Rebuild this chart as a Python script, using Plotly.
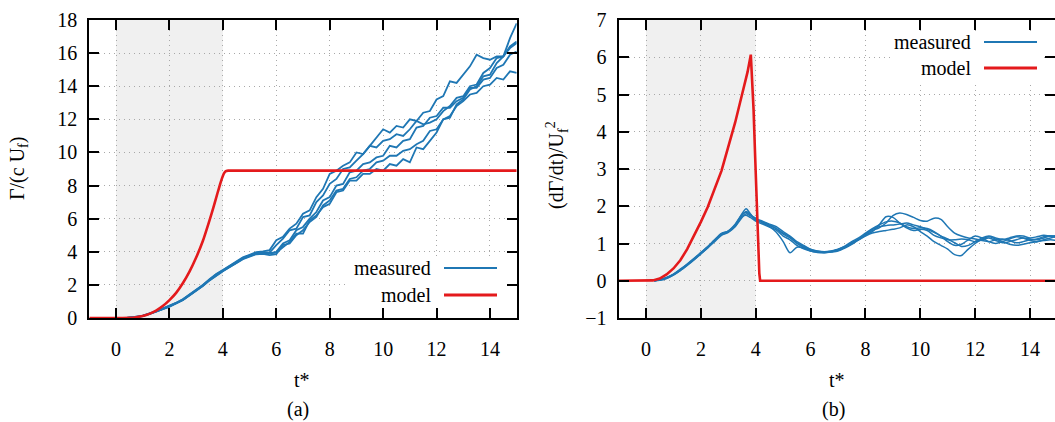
import plotly.graph_objects as go

W, H = 1055, 422

# ---------------- data: (a) circulation ----------------
t_early = [0.4, 0.75, 1.0, 1.25, 1.5, 1.75, 2.0, 2.25, 2.5, 2.75, 3.0, 3.25, 3.5,
           3.75, 4.0, 4.25, 4.5, 4.75, 5.0, 5.25, 5.5]
t_late = [5.75, 6.0, 6.25, 6.5, 6.75, 7.0, 7.25, 7.5, 7.75, 8.0, 8.25, 8.5, 8.75,
          9.0, 9.25, 9.5, 9.75, 10.0, 10.25, 10.5, 10.75, 11.0, 11.25, 11.5, 11.75,
          12.0, 12.25, 12.5, 12.75, 13.0, 13.25, 13.5, 13.75, 14.0, 14.25, 14.5,
          14.75, 15.0]

gamma_a = [0.0, 0.05, 0.14, 0.26, 0.42, 0.56, 0.72, 0.92, 1.13, 1.42, 1.68, 2.0, 2.35,
           2.66, 2.9, 3.15, 3.42, 3.66, 3.82, 3.98, 4.02,
           4.1, 4.7, 4.9, 5.4, 5.7, 6.3, 6.5, 7.3, 7.8, 8.7, 8.9, 9.2, 9.4, 10.0, 9.9,
           10.4, 10.9, 11.4, 11.2, 11.6, 11.5, 12.0, 11.9, 12.4, 12.5, 13.2, 13.4,
           14.3, 14.2, 14.7, 15.2, 15.9, 15.7, 15.6, 15.8, 15.8, 16.3, 16.6]
gamma_b = [0.0, 0.04, 0.12, 0.24, 0.39, 0.55, 0.7, 0.89, 1.1, 1.37, 1.64, 1.94, 2.28,
           2.58, 2.84, 3.1, 3.35, 3.6, 3.76, 3.92, 3.97,
           3.95, 4.4, 4.8, 5.3, 5.4, 6.1, 6.2, 7.0, 7.4, 8.1, 8.4, 9.0, 9.1, 9.5, 9.9,
           10.4, 10.3, 10.7, 10.8, 11.1, 11.0, 11.4, 11.9, 11.7, 11.8, 12.0, 12.5,
           12.8, 13.3, 13.4, 14.0, 14.1, 14.8, 15.1, 15.7, 15.8, 16.4, 16.7]
gamma_c = [0.0, 0.05, 0.13, 0.25, 0.4, 0.54, 0.69, 0.9, 1.09, 1.38, 1.66, 1.96, 2.3,
           2.62, 2.86, 3.08, 3.33, 3.58, 3.74, 3.88, 3.92,
           3.9, 4.0, 4.5, 4.7, 5.3, 5.5, 6.0, 6.4, 7.1, 7.3, 8.0, 8.1, 8.8, 8.9, 9.3,
           9.4, 9.7, 9.8, 10.4, 10.3, 10.7, 10.8, 11.5, 11.6, 12.1, 12.2, 12.7, 12.7,
           13.1, 13.3, 13.9, 13.9, 14.4, 14.5, 15.1, 15.3, 15.9, 16.1]
gamma_d = [0.0, 0.04, 0.12, 0.24, 0.38, 0.53, 0.68, 0.88, 1.08, 1.36, 1.63, 1.93, 2.27,
           2.57, 2.82, 3.06, 3.3, 3.55, 3.7, 3.85, 3.88,
           3.8, 3.85, 4.4, 4.5, 5.0, 5.3, 5.8, 6.1, 6.8, 7.1, 7.7, 7.8, 8.4, 8.5, 8.9,
           9.0, 9.4, 9.5, 9.8, 9.8, 10.1, 10.2, 10.5, 10.7, 11.3, 11.4, 12.0, 12.2,
           12.8, 13.1, 13.5, 13.6, 14.0, 14.1, 14.5, 14.4, 14.9, 14.8]
gamma_e = [0.0, 0.05, 0.13, 0.25, 0.41, 0.56, 0.71, 0.91, 1.12, 1.4, 1.67, 1.98, 2.32,
           2.63, 2.88, 3.12, 3.38, 3.62, 3.78, 3.93, 3.95,
           3.9, 3.95, 4.3, 4.6, 5.1, 5.1, 5.9, 6.2, 6.7, 6.9, 7.6, 7.7, 8.3, 8.3, 8.7,
           8.7, 9.0, 8.9, 9.3, 9.2, 9.6, 9.4, 10.3, 10.2, 10.7, 11.2, 12.0, 12.1,
           12.9, 13.2, 13.8, 14.0, 14.6, 14.7, 15.4, 15.8, 16.9, 17.8]

t_model_a = [-1.0, 0.0, 0.25, 0.5, 0.75, 1.0, 1.25, 1.5, 1.75, 2.0, 2.25, 2.5, 2.75,
             3.0, 3.25, 3.5, 3.65, 3.8, 3.9, 3.97, 4.03, 4.08, 4.13, 4.2, 15.0]
gamma_model = [0.0, 0.0, 0.0, 0.01, 0.05, 0.12, 0.25, 0.45, 0.72, 1.08, 1.52, 2.1,
               2.8, 3.65, 4.65, 5.9, 6.7, 7.55, 8.1, 8.45, 8.7, 8.83, 8.88, 8.9, 8.9]

# ---------------- data: (b) circulation rate ----------------
tr_early = [0.3, 0.5, 0.75, 1.0, 1.25, 1.5, 1.75, 2.0, 2.25, 2.5, 2.75, 3.0, 3.25,
            3.5, 3.65, 3.8, 4.0, 4.25, 4.5, 4.75, 5.0]
tr_late = [5.25, 5.5, 5.75, 6.0, 6.25, 6.5, 6.75, 7.0, 7.25, 7.5, 7.75, 8.0, 8.25,
           8.5, 8.75, 9.0, 9.25, 9.5, 9.75, 10.0, 10.25, 10.5, 10.75, 11.0, 11.25,
           11.5, 11.75, 12.0, 12.25, 12.5, 12.75, 13.0, 13.25, 13.5, 13.75, 14.0,
           14.25, 14.5, 14.75, 15.0]

rate_1 = [0.0, 0.03, 0.09, 0.18, 0.31, 0.45, 0.6, 0.76, 0.92, 1.1, 1.27, 1.33, 1.5,
          1.8, 1.93, 1.8, 1.62, 1.58, 1.5, 1.4, 1.25,
          1.15, 1.0, 0.9, 0.82, 0.78, 0.76, 0.78, 0.82, 0.9, 1.0, 1.1, 1.22, 1.32,
          1.5, 1.72, 1.7, 1.55, 1.42, 1.35, 1.38, 1.35, 1.22, 1.15, 1.1, 1.1, 1.12,
          1.1, 1.05, 1.1, 1.15, 1.08, 1.02, 1.05, 1.1, 1.15, 1.12, 1.1, 1.15, 1.2, 1.18]
rate_2 = [0.0, 0.02, 0.08, 0.17, 0.29, 0.43, 0.58, 0.74, 0.9, 1.08, 1.25, 1.32, 1.48,
          1.75, 1.86, 1.78, 1.66, 1.6, 1.52, 1.45, 1.32,
          1.2, 1.05, 0.95, 0.85, 0.8, 0.78, 0.8, 0.85, 0.92, 1.02, 1.12, 1.25, 1.35,
          1.42, 1.55, 1.75, 1.82, 1.78, 1.7, 1.62, 1.6, 1.68, 1.65, 1.45, 1.28, 1.2,
          1.15, 1.12, 1.08, 1.05, 1.1, 1.12, 1.08, 1.02, 1.05, 1.1, 1.12, 1.18, 1.2, 1.15]
rate_3 = [0.0, 0.01, 0.06, 0.15, 0.27, 0.41, 0.56, 0.72, 0.88, 1.05, 1.22, 1.3, 1.45,
          1.7, 1.8, 1.74, 1.68, 1.55, 1.45, 1.3, 1.05,
          0.75, 0.9, 0.88, 0.8, 0.76, 0.75, 0.77, 0.8, 0.88, 0.98, 1.1, 1.2, 1.28,
          1.32, 1.35, 1.38, 1.42, 1.5, 1.45, 1.32, 1.2, 1.05, 0.95, 0.85, 0.7, 0.68,
          0.85, 1.0, 1.12, 1.18, 1.12, 1.05, 0.98, 0.95, 0.98, 1.02, 1.05, 1.08, 1.1, 1.08]
rate_4 = [0.0, 0.02, 0.07, 0.16, 0.28, 0.42, 0.57, 0.73, 0.89, 1.07, 1.24, 1.31, 1.47,
          1.72, 1.76, 1.7, 1.6, 1.52, 1.44, 1.36, 1.2,
          1.1, 0.95, 0.86, 0.8, 0.77, 0.76, 0.78, 0.84, 0.93, 1.05, 1.15, 1.28, 1.4,
          1.5, 1.58, 1.6, 1.55, 1.45, 1.4, 1.42, 1.4, 1.32, 1.2, 1.05, 0.95, 0.98,
          1.1, 1.2, 1.15, 1.05, 1.0, 1.05, 1.12, 1.18, 1.15, 1.08, 1.05, 1.1, 1.15, 1.2]
rate_5 = [0.0, 0.03, 0.08, 0.17, 0.3, 0.44, 0.59, 0.75, 0.91, 1.09, 1.26, 1.34, 1.52,
          1.78, 1.84, 1.76, 1.64, 1.57, 1.48, 1.4, 1.28,
          1.18, 1.02, 0.92, 0.84, 0.79, 0.77, 0.79, 0.83, 0.9, 1.0, 1.12, 1.25, 1.38,
          1.45, 1.48, 1.5, 1.52, 1.55, 1.5, 1.45, 1.38, 1.3, 1.2, 1.12, 1.02, 0.92,
          0.95, 1.05, 1.15, 1.2, 1.15, 1.1, 1.15, 1.2, 1.2, 1.15, 1.18, 1.22, 1.2, 1.22]

t_model_b = [-1.0, 0.0, 0.25, 0.5, 0.75, 1.0, 1.25, 1.5, 1.75, 2.0, 2.25, 2.5, 2.75,
             3.0, 3.25, 3.5, 3.7, 3.82, 3.86, 3.92, 3.98, 4.04, 4.09, 4.13, 4.16, 15.0]
rate_model = [0.0, 0.0, 0.01, 0.06, 0.17, 0.33, 0.55, 0.85, 1.2, 1.58, 1.98, 2.45,
              2.95, 3.6, 4.25, 5.0, 5.6, 6.07, 5.6, 4.6, 3.3, 1.9, 0.8, 0.2, 0.0, 0.0]

x_ticks = [0, 2, 4, 6, 8, 10, 12, 14]
ya_ticks = [0, 2, 4, 6, 8, 10, 12, 14, 16, 18]
yb_ticks = [-1, 0, 1, 2, 3, 4, 5, 6, 7]
shade_span = [0, 4]

BLUE = "#1f77b4"
RED = "#e41a1c"
FONT = "Liberation Serif"


def px(x):
    return x / W


def py(y):
    return 1 - y / H


fig = go.Figure()

for g in (gamma_a, gamma_b, gamma_c, gamma_d, gamma_e):
    fig.add_trace(go.Scatter(x=t_early + t_late, y=g, mode="lines",
                             line=dict(color=BLUE, width=1.8),
                             xaxis="x", yaxis="y", showlegend=False))
fig.add_trace(go.Scatter(x=t_model_a, y=gamma_model, mode="lines",
                         line=dict(color=RED, width=2.6, shape="spline", smoothing=0.5),
                         xaxis="x", yaxis="y", showlegend=False))

for r in (rate_1, rate_2, rate_3, rate_4, rate_5):
    fig.add_trace(go.Scatter(x=tr_early + tr_late, y=r, mode="lines",
                             line=dict(color=BLUE, width=1.5, shape="spline", smoothing=0.8),
                             xaxis="x2", yaxis="y2", showlegend=False))
fig.add_trace(go.Scatter(x=t_model_b, y=rate_model, mode="lines",
                         line=dict(color=RED, width=2.6),
                         xaxis="x2", yaxis="y2", showlegend=False))

axis_style = dict(
    showline=True, linecolor="black", linewidth=2, mirror="ticks",
    ticks="inside", ticklen=10, tickwidth=2, tickcolor="black",
    showgrid=True, gridcolor="#a8a8a8", gridwidth=1, griddash="1px,4px",
    zeroline=False, automargin=False,
    tickfont=dict(family=FONT, size=20, color="black"),
)

fig.update_layout(
    width=W, height=H,
    margin=dict(l=0, r=0, t=0, b=0, autoexpand=False),
    paper_bgcolor="white", plot_bgcolor="white",
    showlegend=False,
    font=dict(family=FONT, size=20, color="black"),
    xaxis=dict(domain=[px(89.3), px(516.7)], range=[-1, 15], tickvals=x_ticks,
               anchor="y", ticklabelstandoff=12, **axis_style),
    yaxis=dict(domain=[py(318), py(20)], range=[0, 18], tickvals=ya_ticks,
               anchor="x", ticklabelstandoff=6, **axis_style),
    xaxis2=dict(domain=[px(618.6), 1.0], range=[-1, 14.91], tickvals=x_ticks,
                anchor="y2", ticklabelstandoff=12, **axis_style),
    yaxis2=dict(domain=[py(318), py(20)], range=[-1, 7], tickvals=yb_ticks,
                anchor="x2", ticklabelstandoff=6, **axis_style),
)

shapes = []
# shaded interval in both panels
for xr, yr in (("x", "y domain"), ("x2", "y2 domain")):
    shapes.append(dict(type="rect", xref=xr, yref=yr, x0=shade_span[0], x1=shade_span[1],
                       y0=0, y1=1, fillcolor="#f0f0f0", line=dict(width=0), layer="below"))

# opaque key boxes and key samples
key_boxes = [(348, 505, 256, 308), (890, 1043, 31, 82)]
for x0, x1, y0, y1 in key_boxes:
    shapes.append(dict(type="rect", xref="paper", yref="paper", x0=px(x0), x1=px(x1),
                       y0=py(y1), y1=py(y0), fillcolor="white", line=dict(width=0),
                       layer="above"))

keys = [  # (text right edge, sample x0, sample x1, y measured, y model)
    (433, 444, 497, 268, 295),
    (973, 984, 1037, 42, 68),
]
annotations = []
for xt, s0, s1, ym, ymod in keys:
    shapes.append(dict(type="line", xref="paper", yref="paper", x0=px(s0), x1=px(s1),
                       y0=py(ym), y1=py(ym), line=dict(color=BLUE, width=2), layer="above"))
    shapes.append(dict(type="line", xref="paper", yref="paper", x0=px(s0), x1=px(s1),
                       y0=py(ymod), y1=py(ymod), line=dict(color=RED, width=3), layer="above"))
    for txt, yy in (("measured", ym), ("model", ymod)):
        annotations.append(dict(text=txt, x=px(xt), y=py(yy), xref="paper", yref="paper",
                                xanchor="right", yanchor="middle", showarrow=False,
                                font=dict(family=FONT, size=20, color="black")))

labels = [
    ("Γ/(c U<sub>f</sub>)", 18, 169, -90),
    ("(dΓ/dt)/U<sub>f</sub><sup>2</sup>", 557, 165, -90),
    ("t*", 302, 380, 0),
    ("t*", 837, 380, 0),
    ("(a)", 298, 409, 0),
    ("(b)", 833, 409, 0),
]
for txt, x, y, ang in labels:
    annotations.append(dict(text=txt, x=px(x), y=py(y), xref="paper", yref="paper",
                            xanchor="center", yanchor="middle", showarrow=False,
                            textangle=ang, font=dict(family=FONT, size=20, color="black")))

fig.update_layout(shapes=shapes, annotations=annotations)

fig.write_html("out.html")
